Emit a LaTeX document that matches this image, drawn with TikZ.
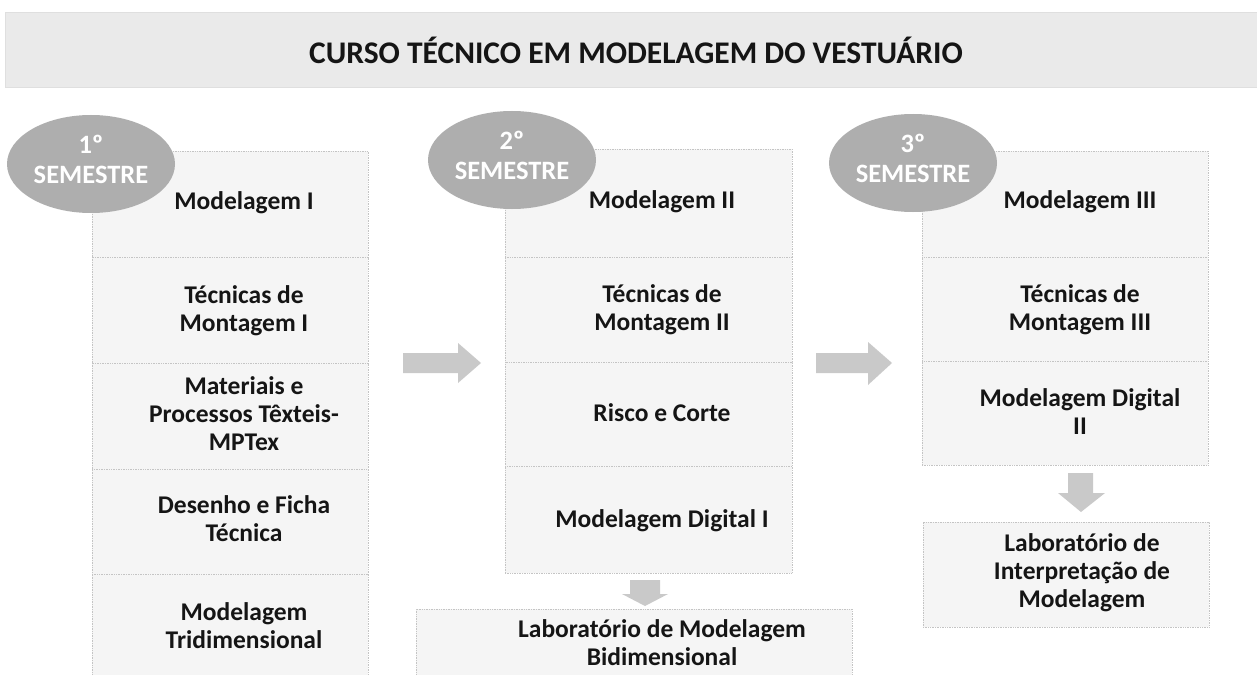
\documentclass[tikz,border=0pt]{standalone}
\usepackage{fontspec}
\setmainfont{Carlito}
\usetikzlibrary{shapes.geometric}
\definecolor{banner}{HTML}{EAEAEA}
\definecolor{cellfill}{HTML}{F5F5F5}
\definecolor{cellline}{HTML}{C4C4C4}
\definecolor{semfill}{HTML}{AEAEAE}
\definecolor{arrfill}{HTML}{C9C9C9}
\definecolor{ink}{HTML}{151515}
\begin{document}
\begin{tikzpicture}[x=1pt,y=-1pt,
  cellbox/.style={draw=cellline, densely dotted, line width=0.7pt, fill=cellfill, inner sep=0pt, outer sep=0pt, anchor=north west},
  txt/.style={font=\bfseries\fontsize{25.5}{28}\selectfont, align=center, text=ink, inner sep=0pt},
  sem/.style={ellipse, fill=semfill, inner sep=0pt, minimum width=168pt, minimum height=98pt},
  semtxt/.style={font=\bfseries\fontsize{26.5}{30}\selectfont, align=center, text=white, inner sep=0pt},
  blockarrow/.style={fill=arrfill, draw=none}
]
\useasboundingbox (0,0) rectangle (1257,674);
\clip (0,0) rectangle (1257,674);
\fill[white] (0,0) rectangle (1257,674);

% title banner
\node[fill=banner, draw=gray!25, inner sep=0pt, minimum width=1262pt, minimum height=75pt, anchor=north west] (banner) at (5,12) {};
\node[font=\bfseries\fontsize{31.5}{36}\selectfont, text=ink, inner sep=0pt] (title) at (636,50) {CURSO TÉCNICO EM MODELAGEM DO VESTUÁRIO};

% column 1
\node[cellbox, minimum width=276pt, minimum height=106pt] (c11) at (92,151) {};
\node[cellbox, minimum width=276pt, minimum height=106pt] (c12) at (92,257) {};
\node[cellbox, minimum width=276pt, minimum height=106pt] (c13) at (92,363) {};
\node[cellbox, minimum width=276pt, minimum height=105pt] (c14) at (92,469) {};
\node[cellbox, minimum width=276pt, minimum height=110pt] (c15) at (92,574) {};
\node[txt] (t11) at (244,203) {Modelagem I};
\node[txt] (t12) at (244,311) {Técnicas de\\Montagem I};
\node[txt] (t13) at (244,414) {Materiais e\\Processos Têxteis-\\MPTex};
\node[txt] (t14) at (244,519) {Desenho e Ficha\\Técnica};
\node[txt] (t15) at (244,626) {Modelagem\\Tridimensional};

% column 2
\node[cellbox, minimum width=287pt, minimum height=108pt] (c21) at (505,149) {};
\node[cellbox, minimum width=287pt, minimum height=105pt] (c22) at (505,257) {};
\node[cellbox, minimum width=287pt, minimum height=104pt] (c23) at (505,362) {};
\node[cellbox, minimum width=287pt, minimum height=107pt] (c24) at (505,466) {};
\node[txt] (t21) at (662,202) {Modelagem II};
\node[txt] (t22) at (662,310) {Técnicas de\\Montagem II};
\node[txt] (t23) at (662,413) {Risco e Corte};
\node[txt] (t24) at (662,521) {Modelagem Digital I};
\node[cellbox, minimum width=436pt, minimum height=80pt] (lab2) at (416,609) {};
\node[txt] (tl2) at (662,643) {Laboratório de Modelagem\\Bidimensional};

% column 3
\node[cellbox, minimum width=286pt, minimum height=106pt] (c31) at (922,151) {};
\node[cellbox, minimum width=286pt, minimum height=104pt] (c32) at (922,257) {};
\node[cellbox, minimum width=286pt, minimum height=104pt] (c33) at (922,361) {};
\node[txt] (t31) at (1080,202) {Modelagem III};
\node[txt] (t32) at (1080,310) {Técnicas de\\Montagem III};
\node[txt] (t33) at (1080,412) {Modelagem Digital\\II};
\node[cellbox, minimum width=286pt, minimum height=105pt] (lab3) at (923,522) {};
\node[txt] (tl3) at (1082,573) {Laboratório de\\Interpretação de\\Modelagem};

% semester ellipses
\node[sem] (s1) at (91,164) {};
\node[semtxt] at ([yshift=5pt]s1.center) {1º\\SEMESTRE};
\node[sem] (s2) at (512,160) {};
\node[semtxt] at ([yshift=5pt]s2.center) {2º\\SEMESTRE};
\node[sem] (s3) at (913,163) {};
\node[semtxt] at ([yshift=5pt]s3.center) {3º\\SEMESTRE};

% block arrows
\fill[blockarrow] (403,353) -- (458,353) -- (458,343) -- (481,363) -- (458,383) -- (458,373) -- (403,373) -- cycle;
\fill[blockarrow] (816,353) -- (868,353) -- (868,342) -- (892,363) -- (868,385) -- (868,373) -- (816,373) -- cycle;
\fill[blockarrow] (630,580) -- (660,580) -- (660,594) -- (668,594) -- (645,606) -- (622,594) -- (630,594) -- cycle;
\fill[blockarrow] (1068,473) -- (1093,473) -- (1093,493) -- (1105,493) -- (1081,512) -- (1058,493) -- (1068,493) -- cycle;
\end{tikzpicture}
\end{document}
